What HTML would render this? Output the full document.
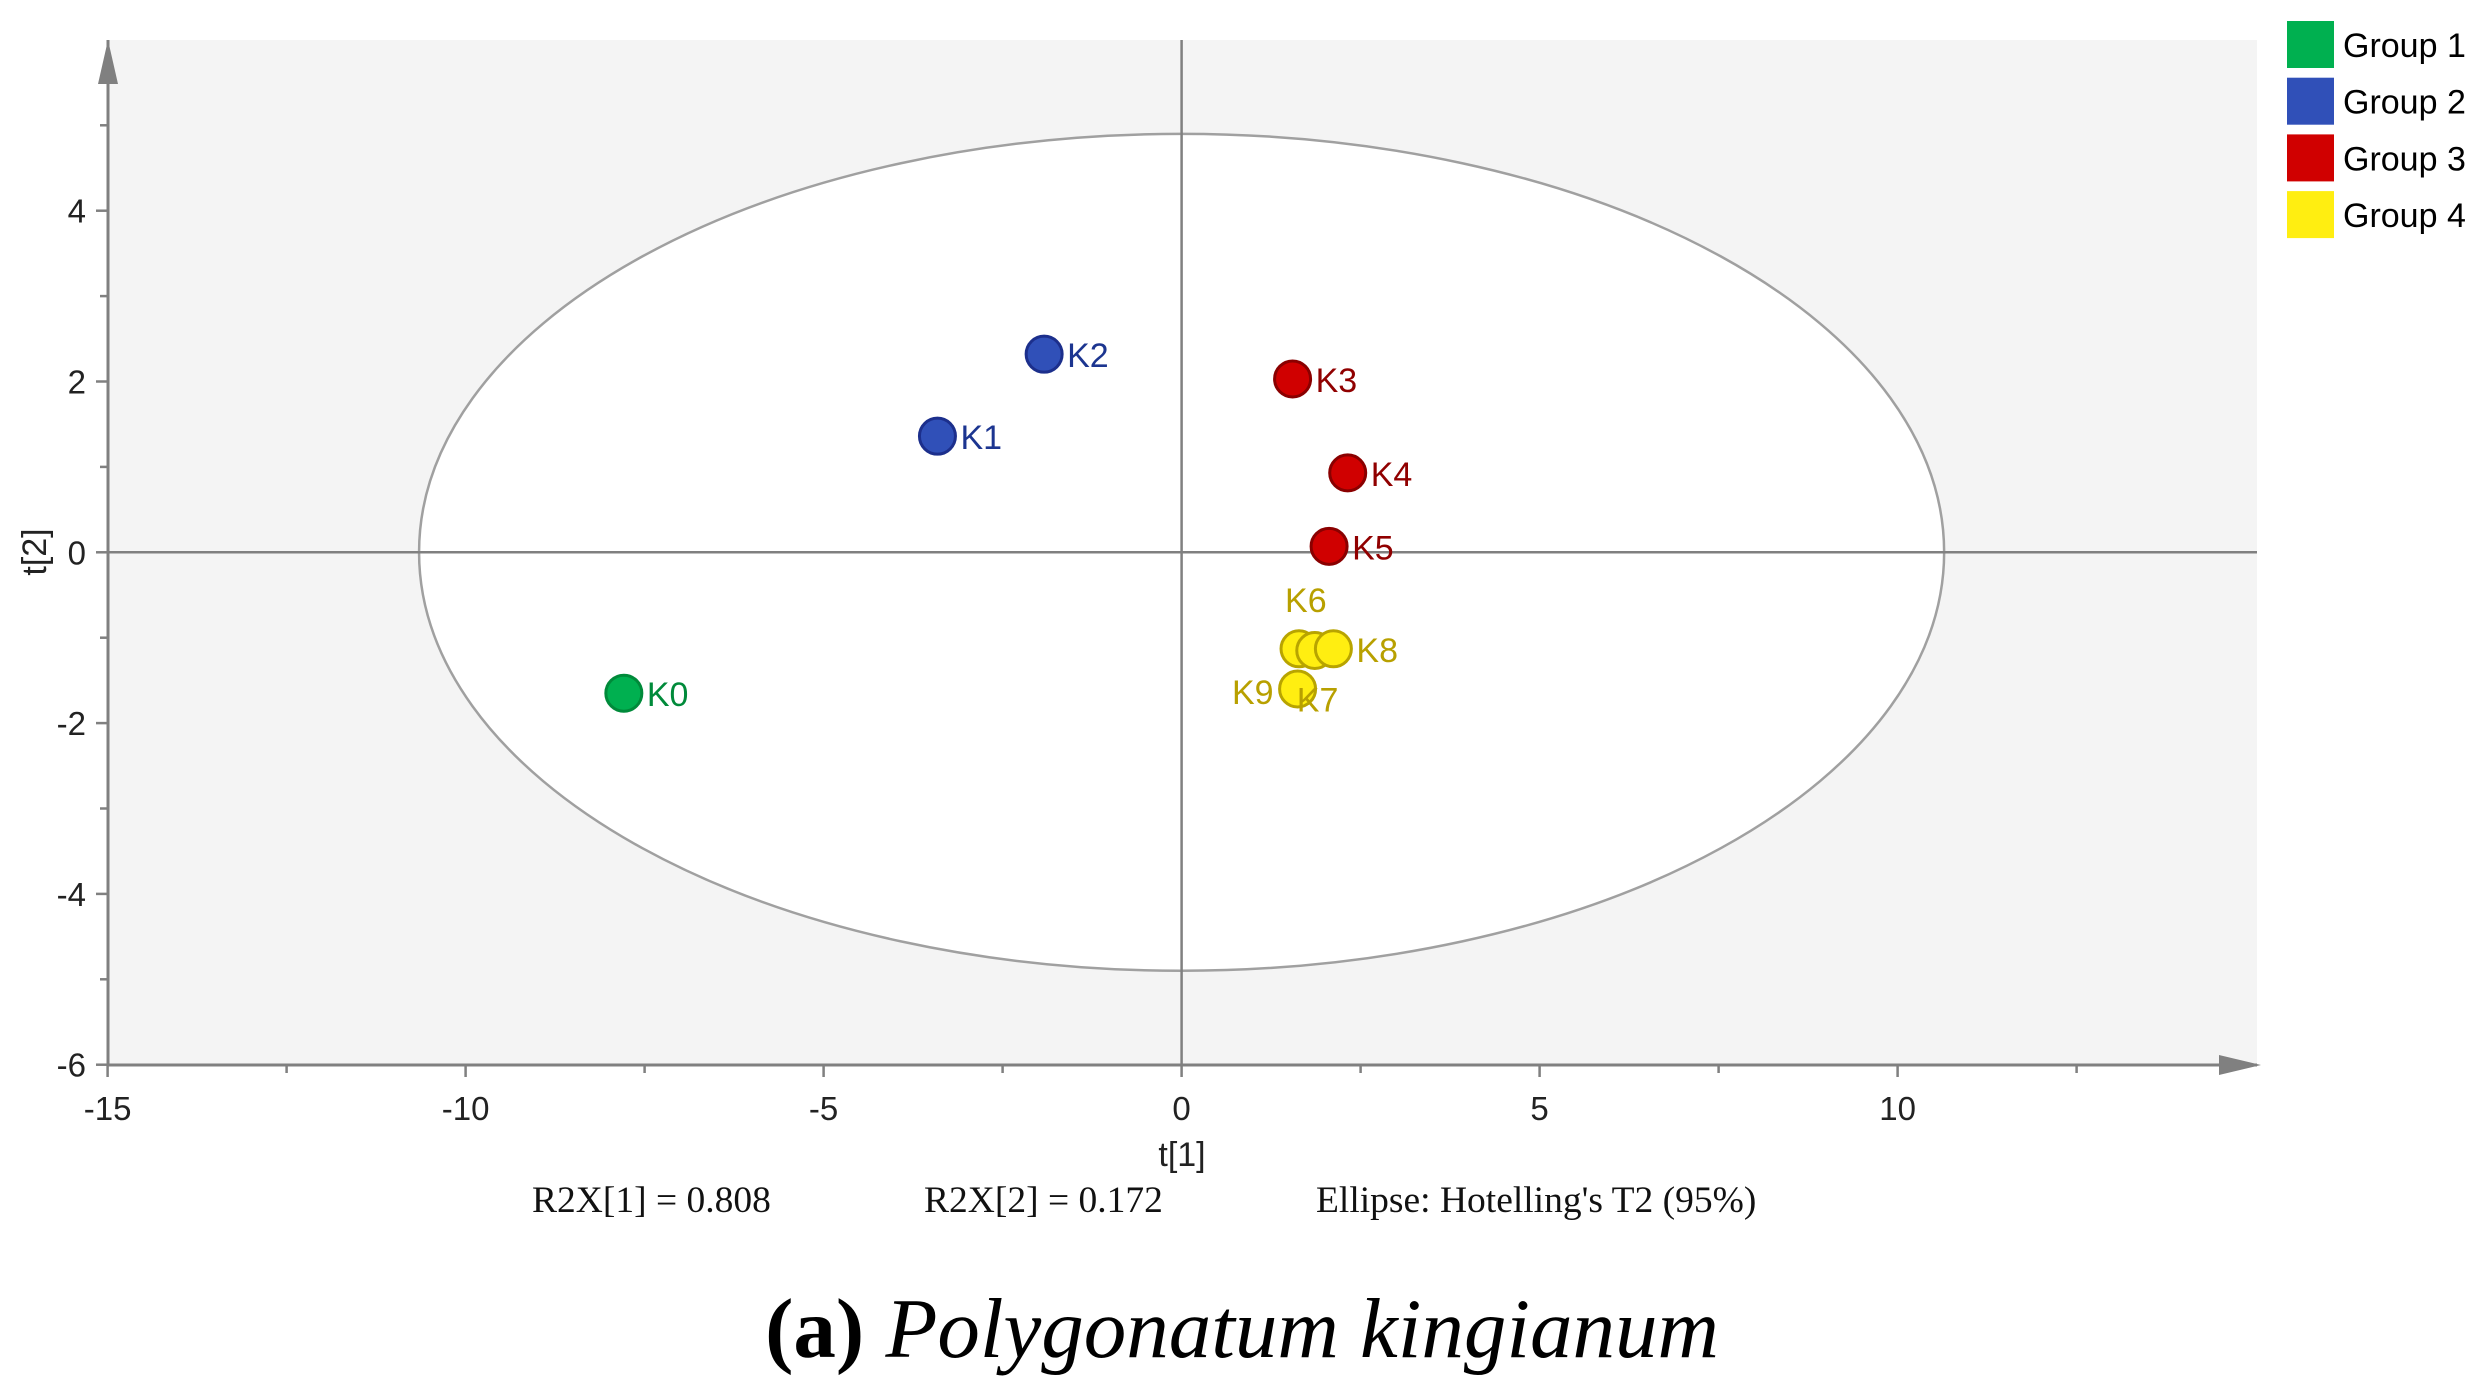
<!DOCTYPE html>
<html><head><meta charset="utf-8"><style>
html,body{margin:0;padding:0;background:#fff;}
svg{display:block;font-family:"Liberation Sans",sans-serif;}
</style></head><body>
<svg id="chart" width="2484" height="1400" viewBox="0 0 2484 1400">
<g id="plot"></g>
<g id="legend"></g>
<text x="1182" y="1166" font-size="34" text-anchor="middle" fill="#222">t[1]</text>
<text x="0" y="0" font-size="34" text-anchor="middle" fill="#222" transform="translate(46,552) rotate(-90)">t[2]</text>
<text x="532" y="1212" font-size="37.5" font-family="Liberation Serif,serif" fill="#111">R2X[1] = 0.808</text>
<text x="924" y="1212" font-size="37.5" font-family="Liberation Serif,serif" fill="#111">R2X[2] = 0.172</text>
<text x="1316" y="1212" font-size="37.5" font-family="Liberation Serif,serif" fill="#111">Ellipse: Hotelling's T2 (95%)</text>
<text x="1242" y="1357" font-size="85" font-family="Liberation Serif,serif" text-anchor="middle" fill="#000"><tspan font-weight="bold">(a)</tspan> <tspan font-style="italic">Polygonatum kingianum</tspan></text>
</svg>
<script>
const labels=["K0","K1","K2","K3","K4","K5","K6","K7","K8","K9"];
const t1=[-7.79,-3.41,-1.92,1.55,2.32,2.06,1.64,1.86,2.12,1.62];
const t2=[-1.65,1.36,2.32,2.03,0.93,0.07,-1.13,-1.15,-1.13,-1.60];
const groups=[0,1,1,2,2,2,3,3,3,3];
const groupNames=["Group 1","Group 2","Group 3","Group 4"];
const xTicks=[-15,-10,-5,0,5,10];
const yTicks=[-6,-4,-2,0,2,4];
const ellipseR=[10.65,4.9];

const fills=["#00b050","#3050b8","#d00000","#ffee11"];
const strokes=["#008a3a","#1c2f8c","#8a0000","#b8a400"];
const txtCol=["#008a3a","#1c3590","#900000","#b8a000"];
const L=108,R=2257,T=40,B=1065;
const X0=1181.6,XS=71.6,Y0=552.3,YS=85.4;
const sx=v=>X0+v*XS, sy=v=>Y0-v*YS;
const NS="http://www.w3.org/2000/svg";
const plot=document.getElementById('plot');
function mk(tag,attrs,parent){const e=document.createElementNS(NS,tag);for(const k in attrs)e.setAttribute(k,attrs[k]);(parent||plot).appendChild(e);return e;}

let e=mk('rect',{x:L,y:T,width:R-L,height:B-T,fill:'#f4f4f4'});


e=mk('ellipse',{cx:sx(0),cy:sy(0),rx:ellipseR[0]*XS,ry:ellipseR[1]*YS,fill:'#fff',stroke:'#a0a0a0','stroke-width':2.5});


e=mk('line',{x1:L,y1:sy(0),x2:R,y2:sy(0),stroke:'#808080','stroke-width':2.5});


e=mk('line',{x1:sx(0),y1:T,x2:sx(0),y2:B,stroke:'#808080','stroke-width':2.5});


e=mk('line',{x1:L,y1:B,x2:R,y2:B,stroke:'#808080','stroke-width':3});


e=mk('polygon',{points:`${R+4},${B} ${R-38},${B-10} ${R-38},${B+10}`,fill:'#808080'});


e=mk('line',{x1:L,y1:B,x2:L,y2:T,stroke:'#808080','stroke-width':3});


e=mk('polygon',{points:`${L},${T} ${L-10},${T+44} ${L+10},${T+44}`,fill:'#808080'});


for(let v=-15;v<=12.5;v+=2.5){const x=sx(v);e=mk('line',{x1:x,y1:B,x2:x,y2:B+(v%5===0?12:8),stroke:'#808080','stroke-width':2.5});

}
xTicks.forEach(v=>{e=mk('text',{x:sx(v),y:B+55,'font-size':33,'text-anchor':'middle',fill:'#222'});e.textContent=v;

});
for(let v=-6;v<=5;v+=1){const y=sy(v);e=mk('line',{x1:L,y1:y,x2:L-(v%2===0?12:8),y2:y,stroke:'#808080','stroke-width':2.5});

}
yTicks.forEach(v=>{e=mk('text',{x:L-22,y:sy(v)+12,'font-size':33,'text-anchor':'end',fill:'#222'});e.textContent=v;

});
const lblOff={K6:[-14,-50,'start'],K9:[-24,2,'end'],K7:[-18,48,'start']};
labels.forEach((l,i)=>{const g=groups[i];const x=sx(t1[i]),y=sy(t2[i]);
 e=mk('circle',{cx:x,cy:y,r:18,fill:fills[g],stroke:strokes[g],'stroke-width':3});
 
 
});
labels.forEach((l,i)=>{const g=groups[i];const x=sx(t1[i]),y=sy(t2[i]);
 let o=lblOff[l]||[23,0,'start'];
 e=mk('text',{x:x+o[0],y:y+o[1]+13,'font-size':34,'text-anchor':o[2],fill:txtCol[g]});e.textContent=l;
 
 
});
const leg=document.getElementById('legend');
groupNames.forEach((n,i)=>{const y=21+i*56.7;
 e=mk('rect',{x:2287,y:y,width:47,height:47,fill:fills[i]},leg);
 
 
 e=mk('text',{x:2343,y:y+36,'font-size':34,fill:'#000'},leg);e.textContent=n;
 
 
});
</script>
</body></html>
